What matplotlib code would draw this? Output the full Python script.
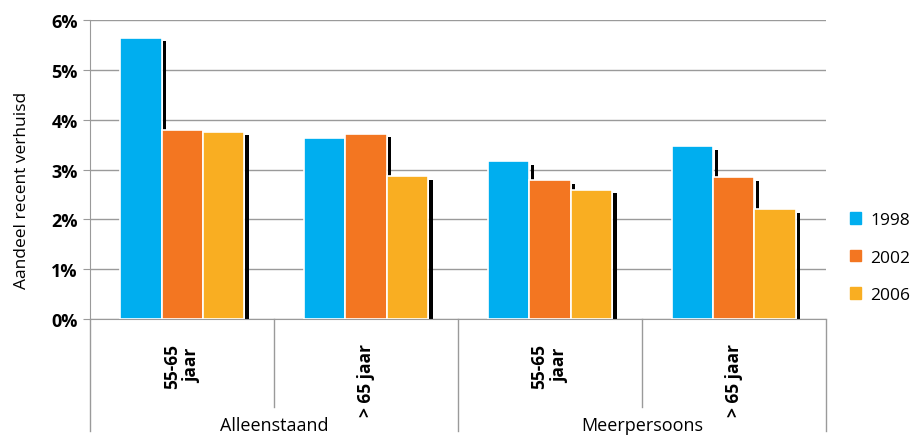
import matplotlib.pyplot as plt
import numpy as np
from matplotlib.patches import Patch

plt.rcParams['font.family'] = ['Open Sans', 'DejaVu Sans']

groups = ["Alleenstaand", "Meerpersoons"]
categories = ["55-65\njaar", "> 65 jaar", "55-65\njaar", "> 65 jaar"]
years = ["1998", "2002", "2006"]
colors = ["#00AEEF", "#F37621", "#F9AE22"]

# share recently moved (%) per year
vals_1998 = [5.65, 3.63, 3.17, 3.47]
vals_2002 = [3.79, 3.72, 2.79, 2.85]
vals_2006 = [3.76, 2.87, 2.59, 2.20]
series = [vals_1998, vals_2002, vals_2006]

fig = plt.figure(figsize=(9.15, 4.39), dpi=100)
ax = fig.add_axes([0.0984, 0.271, 0.8043, 0.681])

x = np.arange(len(categories))
bw = 0.223
for i, vals in enumerate(series):
    xs = x + (i - 1) * bw
    # little black "shadow" on the right side of each bar
    ax.bar(xs + bw / 2 + 0.018, np.array(vals) - 0.07, width=0.018,
           color="black", zorder=2)
    ax.bar(xs, vals, width=bw, color=colors[i], edgecolor="white",
           linewidth=1.2, zorder=3, label=years[i])

ax.set_xlim(-0.5, 3.5)
ax.set_ylim(0, 6)
ax.set_yticks(range(7))
ax.set_yticklabels([f"{v}%" for v in range(7)], fontsize=13, fontweight="bold")
ax.yaxis.grid(True, color="#9a9a9a", linewidth=1)
ax.set_axisbelow(True)
for s in ["top", "right"]:
    ax.spines[s].set_visible(False)
ax.spines["left"].set_color("#9a9a9a")
ax.spines["bottom"].set_color("#9a9a9a")
ax.tick_params(axis="y", length=5, color="#9a9a9a", pad=4)
ax.set_ylabel("Aandeel recent verhuisd", fontsize=12.5)
ax.yaxis.set_label_coords(-0.0815, 0.435)

ax.set_xticks(x)
ax.set_xticklabels(categories, rotation=90, fontsize=12.5, fontweight="bold",
                   va="top", ha="center", multialignment="center")
ax.tick_params(axis="x", length=0, pad=17)

# separators below the axis
tr = ax.get_xaxis_transform()
for xv in [0.5, 2.5]:
    ax.plot([xv, xv], [0, -0.294], color="#9a9a9a", lw=1, transform=tr, clip_on=False)
for xv in [-0.5, 1.5, 3.5]:
    ax.plot([xv, xv], [0, -0.375], color="#9a9a9a", lw=1, transform=tr, clip_on=False)
for gi, g in enumerate(groups):
    ax.text(gi * 2 + 0.5, -0.355, g, transform=tr, ha="center", va="center",
            fontsize=13)

handles = [Patch(color=c, label=y) for c, y in zip(colors, years)]
fig.legend(handles=handles, loc="center left", bbox_to_anchor=(0.929, 0.411),
           frameon=False, fontsize=12.5, handlelength=0.65, handleheight=0.65,
           labelspacing=1.25, handletextpad=0.5, borderaxespad=0, borderpad=0)

fig.savefig("out.png", dpi=100)
